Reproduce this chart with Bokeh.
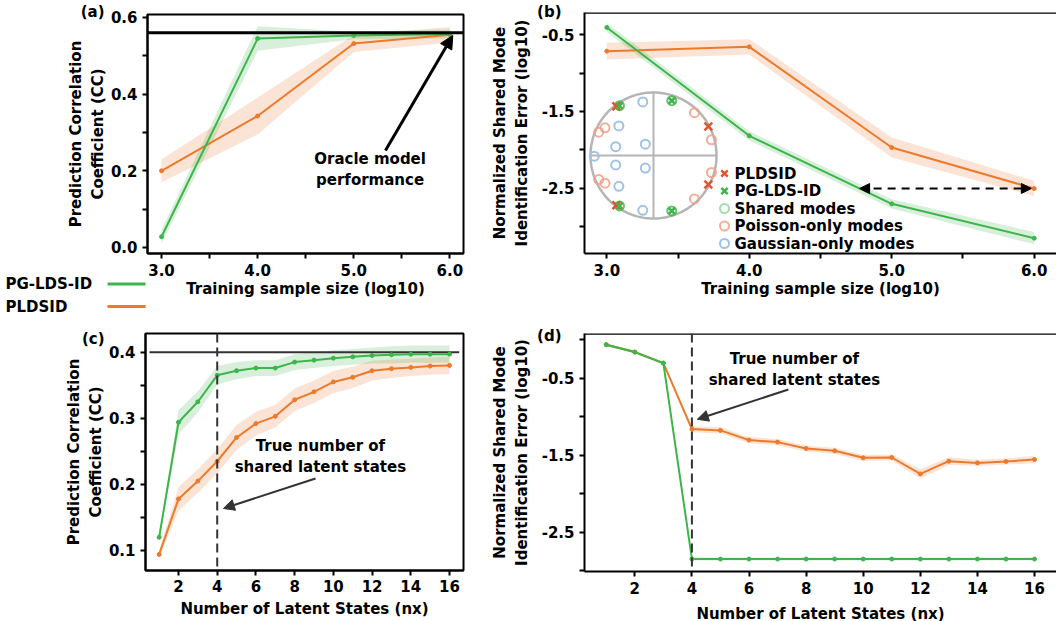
import numpy as np
from bokeh.plotting import figure
from bokeh.layouts import column
from bokeh.models import Range1d, FixedTicker, Span, Label, Arrow, NormalHead, GridBox
from bokeh.embed import file_html
from bokeh.resources import INLINE
from bokeh.core.properties import value

FONT = "DejaVu Sans"
GREEN = "#3db54a"
ORANGE = "#ec7a2b"
RED = "#e6522c"
LGREEN = "#8fd49a"
SALMON = "#f2a086"
LBLUE = "#9fc3e7"

# ---------------- data ----------------
log_n = [3.0, 4.0, 5.0, 6.0]
cc_pglds_a = [0.028, 0.545, 0.553, 0.557]
cc_pglds_a_err = [0.018, 0.032, 0.010, 0.012]
cc_pldsid_a = [0.200, 0.343, 0.532, 0.555]
cc_pldsid_a_err = [0.030, 0.048, 0.022, 0.020]
oracle_a = 0.56

err_pglds_b = [-0.405, -1.817, -2.704, -3.152]
err_pglds_b_err = [0.06, 0.06, 0.06, 0.08]
err_pldsid_b = [-0.713, -0.657, -1.970, -2.504]
err_pldsid_b_err = [0.11, 0.10, 0.13, 0.10]

nx = list(range(1, 17))
cc_pglds_c = [0.120, 0.294, 0.325, 0.365, 0.372, 0.376, 0.376, 0.385, 0.388,
              0.391, 0.393, 0.395, 0.396, 0.397, 0.397, 0.397]
cc_pglds_c_err = [0.005, 0.018, 0.016, 0.014, 0.013, 0.012, 0.012, 0.012, 0.012,
                  0.012, 0.012, 0.012, 0.013, 0.013, 0.013, 0.013]
cc_pldsid_c = [0.094, 0.178, 0.205, 0.235, 0.271, 0.292, 0.303, 0.328, 0.340,
               0.355, 0.362, 0.372, 0.375, 0.377, 0.379, 0.380]
cc_pldsid_c_err = [0.005, 0.018, 0.018, 0.018, 0.019, 0.018, 0.017, 0.017, 0.017,
                   0.017, 0.016, 0.015, 0.014, 0.013, 0.013, 0.013]
oracle_c = 0.4
true_nx = 4

err_pglds_d = [-0.061, -0.157, -0.300, -2.843, -2.845, -2.845, -2.845, -2.845,
               -2.844, -2.845, -2.845, -2.845, -2.845, -2.845, -2.845, -2.845]
err_pglds_d_err = [0.02] * 16
err_pldsid_d = [-0.061, -0.157, -0.300, -1.157, -1.174, -1.300, -1.326, -1.409,
                -1.439, -1.530, -1.526, -1.739, -1.574, -1.596, -1.578, -1.552]
err_pldsid_d_err = [0.01, 0.01, 0.01, 0.04, 0.04, 0.04, 0.04, 0.04,
                    0.04, 0.04, 0.04, 0.06, 0.05, 0.04, 0.04, 0.05]

# eigenvalues (unit circle) for inset
shared_re = [-0.54, -0.54, 0.29, 0.29]
shared_im = [0.79, -0.80, 0.87, -0.88]
pldsid_re = [-0.59, -0.59, 0.87, 0.87]
pldsid_im = [0.78, -0.79, 0.46, -0.46]
poisson_re = [0.65, 0.65, 0.92, 0.92, -0.87, -0.87, -0.77, -0.77]
poisson_im = [0.68, -0.69, 0.25, -0.27, 0.37, -0.38, 0.44, -0.44]
gauss_re = [-0.17, -0.17, -0.55, -0.55, -0.60, -0.60, -0.13, -0.13, -0.94]
gauss_im = [0.85, -0.87, 0.47, -0.49, 0.14, -0.15, 0.18, -0.20, -0.01]

x_ticks_a = [3.0, 3.5, 4.0, 4.5, 5.0, 5.5, 6.0]
x_labels_a = {3.0: "3.0", 3.5: "", 4.0: "4.0", 4.5: "", 5.0: "5.0", 5.5: "", 6.0: "6.0"}
y_ticks_a = [0.0, 0.1, 0.2, 0.3, 0.4, 0.5, 0.6]
y_labels_a = {0.0: "0.0", 0.1: "", 0.2: "0.2", 0.3: "", 0.4: "0.4", 0.5: "", 0.6: "0.6"}
y_ticks_b = [-3.0, -2.5, -2.0, -1.5, -1.0, -0.5]
y_labels_b = {-3.0: "", -2.5: "-2.5", -2.0: "", -1.5: "-1.5", -1.0: "", -0.5: "-0.5"}
x_ticks_c = [2, 4, 6, 8, 10, 12, 14, 16]
y_ticks_c = [0.1, 0.15, 0.2, 0.25, 0.3, 0.35, 0.4]
y_labels_c = {0.1: "0.1", 0.15: "", 0.2: "0.2", 0.25: "", 0.3: "0.3", 0.35: "", 0.4: "0.4"}
y_ticks_d = [-3.0, -2.5, -2.0, -1.5, -1.0, -0.5, 0.0]
y_labels_d = {-3.0: "", -2.5: "-2.5", -2.0: "", -1.5: "-1.5", -1.0: "", -0.5: "-0.5", 0.0: ""}

panel_tags = ["(a)", "(b)", "(c)", "(d)"]
method_names = ["PG-LDS-ID", "PLDSID"]
YLAB_CC = "Prediction Correlation\nCoefficient (CC)"
YLAB_ERR = "Normalized Shared Mode\nIdentification Error (log10)"
XLAB_N = "Training sample size (log10)"
XLAB_NX = "Number of Latent States (nx)"
NOTE_A = "Oracle model\nperformance"
NOTE_NX = "True number of\nshared latent states"

W_TOTAL, H_TOTAL = 1056, 620


def make_fig(fw, fh, xr, yr, bl, br, bt, bb, outline=True):
    p = figure(frame_width=fw, frame_height=fh,
               x_range=Range1d(*xr), y_range=Range1d(*yr),
               min_border_left=bl, min_border_right=br,
               min_border_top=bt, min_border_bottom=bb,
               output_backend="svg", toolbar_location=None)
    p.grid.visible = False
    p.outline_line_color = "black" if outline else None
    p.outline_line_width = 2
    p.outline_line_alpha = 1
    for ax in p.axis:
        ax.axis_line_width = 2
        ax.axis_line_color = "black"
        ax.major_tick_line_width = 2
        ax.major_tick_line_color = "black"
        ax.major_tick_out = 5
        ax.major_tick_in = 0
        ax.minor_tick_line_color = None
        ax.major_label_text_font = FONT
        ax.major_label_text_font_style = "bold"
        ax.major_label_text_font_size = "15px"
        ax.major_label_text_color = "black"
        ax.axis_label_text_font = FONT
        ax.axis_label_text_font_style = "bold"
        ax.axis_label_text_font_size = "15px"
        ax.axis_label_text_color = "black"
        ax.major_label_standoff = 5
        ax.axis_label_standoff = 1
    return p


def series(p, x, y, err, color):
    y = np.array(y); e = np.array(err)
    p.varea(x=x, y1=y - e, y2=y + e, fill_color=color, fill_alpha=0.2)


def lines(p, x, y, color):
    p.line(x, y, line_color=color, line_width=2)
    p.scatter(x, y, size=4, color=color)


def txt(p, x, y, text, units="data", align="left", baseline="middle", color="black", size="15px"):
    p.add_layout(Label(x=x, y=y, x_units=units, y_units=units, text=text,
                       text_font=FONT, text_font_style="bold",
                       text_font_size=size, text_color=color,
                       text_align=align, text_baseline=baseline))


# ---------------- panel (a) ----------------
pa = make_fig(316, 239, (2.854, 6.142), (-0.0157, 0.6078), 147, 25, 14, 65)
pa.xaxis.ticker = FixedTicker(ticks=x_ticks_a)
pa.xaxis.major_label_overrides = x_labels_a
pa.yaxis.ticker = FixedTicker(ticks=y_ticks_a)
pa.yaxis.major_label_overrides = y_labels_a
pa.xaxis.axis_label = XLAB_N
pa.yaxis.axis_label = YLAB_CC
pa.yaxis.axis_label_standoff = 1
series(pa, log_n, cc_pldsid_a, cc_pldsid_a_err, ORANGE)
series(pa, log_n, cc_pglds_a, cc_pglds_a_err, GREEN)
lines(pa, log_n, cc_pldsid_a, ORANGE)
lines(pa, log_n, cc_pglds_a, GREEN)
pa.add_layout(Span(location=oracle_a, dimension="width", line_color="black", line_width=3))
txt(pa, 5.17, 0.203, NOTE_A, align="center")
pa.add_layout(Arrow(x_start=5.33, y_start=0.253, x_end=6.03, y_end=oracle_a - 0.007,
                    line_color="black", line_width=3,
                    end=NormalHead(size=13, fill_color="black", line_color="black")))

# ---------------- panel (b) ----------------
bxr = (2.8435, 6.1565); byr = (-3.3514, -0.2093); bfw, bfh = 472, 241
pb = make_fig(bfw, bfh, bxr, byr, 96, 0, 12, 65, outline=False)
pb.xaxis.ticker = FixedTicker(ticks=x_ticks_a)
pb.xaxis.major_label_overrides = x_labels_a
pb.yaxis.ticker = FixedTicker(ticks=y_ticks_b)
pb.yaxis.major_label_overrides = y_labels_b
pb.xaxis.axis_label = XLAB_N
pb.yaxis.axis_label = YLAB_ERR
pb.yaxis.axis_label_standoff = 8
pb.add_layout(Span(location=byr[1], dimension="width", line_color="black", line_width=2.5))


def bx(px):
    return bxr[0] + np.asarray(px) * (bxr[1] - bxr[0]) / bfw


def by(py):
    return byr[0] + np.asarray(py) * (byr[1] - byr[0]) / bfh


# inset (unit circle of eigenvalues)
CX, CY, R = 69, 98, 63
ang = np.linspace(0, 2 * np.pi, 200)
pb.line(bx(CX + R * np.cos(ang)), by(CY + R * np.sin(ang)), line_color="#b5b5b5", line_width=2.5)
pb.line(bx(np.array([CX - R, CX + R])), by(np.array([CY, CY])), line_color="#b5b5b5", line_width=2)
pb.line(bx(np.array([CX, CX])), by(np.array([CY - R, CY + R])), line_color="#b5b5b5", line_width=2)


def ins(re, im):
    return bx(CX + R * np.array(re)), by(CY + R * np.array(im))


gx, gy = ins(gauss_re, gauss_im)
pb.scatter(gx, gy, marker="circle", size=9, fill_color=None, line_color=LBLUE, line_width=2)
ox, oy = ins(poisson_re, poisson_im)
pb.scatter(ox, oy, marker="circle", size=9, fill_color=None, line_color=SALMON, line_width=2, line_alpha=0.85)
sx, sy = ins(shared_re, shared_im)
pb.scatter(sx, sy, marker="circle", size=9, fill_color=None, line_color=GREEN, line_width=2, line_alpha=0.8)
rx, ry = ins(pldsid_re, pldsid_im)
pb.scatter(rx, ry, marker="x", size=11, line_color=RED, line_width=2.5)
pb.scatter(sx, sy, marker="x", size=9, line_color=GREEN, line_width=2.5)

series(pb, log_n, err_pldsid_b, err_pldsid_b_err, ORANGE)
series(pb, log_n, err_pglds_b, err_pglds_b_err, GREEN)
lines(pb, log_n, err_pldsid_b, ORANGE)
lines(pb, log_n, err_pglds_b, GREEN)

# double arrow showing the gap at the PLDSID final error level
target = err_pldsid_b[-1]
x_cross = float(np.interp(-target, -np.array(err_pglds_b), log_n))
pb.add_layout(Arrow(x_start=x_cross, y_start=target, x_end=log_n[-1] - 0.02, y_end=target,
                    line_color="black", line_width=2, line_dash="8 6",
                    start=NormalHead(size=10, fill_color="black", line_color="black"),
                    end=NormalHead(size=10, fill_color="black", line_color="black")))

# inset legend
leg_rows = [80, 62.5, 45, 27.5, 10]
leg_items = [("PLDSID", "x", RED, 1.0), ("PG-LDS-ID", "x", GREEN, 1.0),
             ("Shared modes", "circle", LGREEN, 0.8), ("Poisson-only modes", "circle", SALMON, 0.85),
             ("Gaussian-only modes", "circle", LBLUE, 1.0)]
for (lab, mk, col, al), ry_ in zip(leg_items, leg_rows):
    if mk == "x":
        pb.scatter([float(bx(140))], [float(by(ry_))], marker="x", size=9, line_color=col, line_width=2.5)
    else:
        pb.scatter([float(bx(140))], [float(by(ry_))], marker="circle", size=9, fill_color=None,
                   line_color=col, line_width=2, line_alpha=al)
    txt(pb, 150, ry_, lab, units="screen")

# ---------------- panel (c) ----------------
pc = make_fig(318, 237, (0.295, 16.723), (0.0697, 0.4283), 145, 25, 15, 50)
pc.xaxis.ticker = FixedTicker(ticks=x_ticks_c)
pc.yaxis.ticker = FixedTicker(ticks=y_ticks_c)
pc.yaxis.major_label_overrides = y_labels_c
pc.xaxis.axis_label = XLAB_NX
pc.yaxis.axis_label = YLAB_CC
pc.yaxis.axis_label_standoff = 1
pc.xaxis.major_label_standoff = 4
pc.xaxis.axis_label_standoff = 5
series(pc, nx, cc_pldsid_c, cc_pldsid_c_err, ORANGE)
series(pc, nx, cc_pglds_c, cc_pglds_c_err, GREEN)
pc.line([nx[0] - 0.5, nx[-1] + 0.5], [oracle_c, oracle_c], line_color="#333333", line_width=2)
pc.add_layout(Span(location=true_nx, dimension="height", line_color="#333333",
                   line_width=2, line_dash="9 5"))
lines(pc, nx, cc_pldsid_c, ORANGE)
lines(pc, nx, cc_pglds_c, GREEN)
txt(pc, 9.33, 0.242, NOTE_NX, align="center")
pc.add_layout(Arrow(x_start=9.08, y_start=0.209, x_end=true_nx + 0.32, y_end=0.1636,
                    line_color="#333333", line_width=2,
                    end=NormalHead(size=11, fill_color="#333333", line_color="#333333")))

# ---------------- panel (d) ----------------
dyr = (-3.0065, 0.0844)
pd_ = make_fig(472, 238, (0.238, 16.77), dyr, 96, 0, 15, 49, outline=False)
pd_.xaxis.ticker = FixedTicker(ticks=x_ticks_c)
pd_.yaxis.ticker = FixedTicker(ticks=y_ticks_d)
pd_.yaxis.major_label_overrides = y_labels_d
pd_.xaxis.axis_label = XLAB_NX
pd_.yaxis.axis_label = YLAB_ERR
pd_.yaxis.axis_label_standoff = 8
pd_.xaxis.major_label_standoff = 5
pd_.xaxis.axis_label_standoff = 8
pd_.add_layout(Span(location=dyr[1], dimension="width", line_color="black", line_width=2.5))
series(pd_, nx, err_pldsid_d, err_pldsid_d_err, ORANGE)
series(pd_, nx, err_pglds_d, err_pglds_d_err, GREEN)
pd_.add_layout(Span(location=true_nx, dimension="height", line_color="#333333",
                    line_width=2, line_dash="9 5"))
lines(pd_, nx, err_pldsid_d, ORANGE)
lines(pd_, nx, err_pglds_d, GREEN)
txt(pd_, 7.59, -0.383, NOTE_NX, align="center")
pd_.add_layout(Arrow(x_start=7.38, y_start=-0.643, x_end=true_nx + 0.19, y_end=-1.03,
                     line_color="#333333", line_width=2,
                     end=NormalHead(size=11, fill_color="#333333", line_color="#333333")))

# ---------------- overlay: panel tags + shared legend (page pixel space) ----------------
ov = figure(width=W_TOTAL, height=H_TOTAL, x_range=Range1d(0, W_TOTAL), y_range=Range1d(H_TOTAL, 0),
            x_axis_type=None, y_axis_type=None, toolbar_location=None, output_backend="svg",
            min_border=0, outline_line_color=None,
            background_fill_color=None, border_fill_color=None)
ov.grid.visible = False
tag_x = [104, 561, 104, 561]
tag_y = [11.5, 11.5, 338, 335]
ov.text(x=tag_x, y=tag_y, text=panel_tags, text_font=value(FONT), text_font_style="bold",
        text_font_size="15px", text_align="right", text_baseline="middle", text_color="black")
leg_y = [283.5, 306]
ov.text(x=[5, 5], y=leg_y, text=method_names, text_font=value(FONT), text_font_style="bold",
        text_font_size="15px", text_align="left", text_baseline="middle", text_color="black")
ov.segment(x0=[107, 107], y0=leg_y, x1=[145, 145], y1=leg_y, line_color=[GREEN, ORANGE], line_width=3)

try:
    for f in (pa, pb, pc, pd_, ov):
        f.frame_align = False
    ov_child = ov
except Exception:
    ov_child = column(ov)

grid = GridBox(children=[(pa, 0, 0), (pb, 0, 1), (pc, 1, 0), (pd_, 1, 1), (ov_child, 0, 0, 2, 2)])
open("out.html", "w").write(file_html(grid, INLINE))
